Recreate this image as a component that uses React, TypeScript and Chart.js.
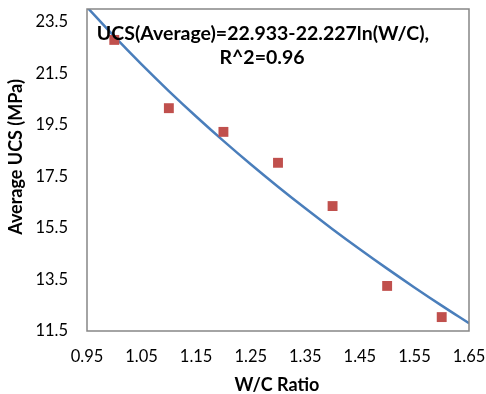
import React, { useEffect, useRef } from "react";
import { Chart, registerables } from "chart.js";

Chart.register(...registerables);

const wcRatio = [1.0, 1.1, 1.2, 1.3, 1.4, 1.5, 1.6];
const ucsAverage = [22.8, 20.15, 19.23, 18.03, 16.35, 13.25, 12.04];
const xTicks = [0.95, 1.05, 1.15, 1.25, 1.35, 1.45, 1.55, 1.65];
const yTicks = [11.5, 13.5, 15.5, 17.5, 19.5, 21.5, 23.5];
const trendA = 22.933;
const trendB = 22.227;
const trendX = [0.95, 1.0, 1.05, 1.1, 1.15, 1.2, 1.25, 1.3, 1.35, 1.4, 1.45, 1.5, 1.55, 1.6, 1.65];
const annotationLines = ["UCS(Average)=22.933-22.227ln(W/C),", "R^2=0.96"];
const xTitle = "W/C Ratio";
const yTitle = "Average UCS (MPa)";

const FONT = "Lato, 'Open Sans', sans-serif";

export default function App() {
  const ref = useRef<HTMLCanvasElement>(null);
  useEffect(() => {
    if (!ref.current) return;
    const trend = trendX.map((x) => ({ x, y: trendA - trendB * Math.log(x) }));
    const boxPlugin = {
      id: "box",
      afterDatasetsDraw(chart: any) {
        const { ctx, chartArea: a } = chart;
        const xs = chart.scales.x;
        const ys = chart.scales.y;
        ctx.save();
        ctx.strokeStyle = "#868686";
        ctx.lineWidth = 1.5;
        ctx.strokeRect(a.left, a.top, a.right - a.left, a.bottom - a.top);
        ctx.fillStyle = "#000";
        // tick labels
        ctx.font = `16.5px ${FONT}`;
        ctx.textAlign = "center";
        ctx.textBaseline = "middle";
        xTicks.forEach((v) => ctx.fillText(v.toFixed(2), xs.getPixelForValue(v), a.bottom + 26));
        ctx.textAlign = "right";
        yTicks.forEach((v) => ctx.fillText(v.toFixed(1), a.left - 19, ys.getPixelForValue(v)));
        // annotation
        ctx.textAlign = "center";
        ctx.font = `bold 19.5px ${FONT}`;
        ctx.fillText(annotationLines[0], 263, 34);
        ctx.fillText(annotationLines[1], 262, 58);
        // axis titles
        ctx.font = `bold 18px ${FONT}`;
        ctx.fillText(xTitle, 277, 385);
        ctx.translate(16, 157);
        ctx.rotate(-Math.PI / 2);
        ctx.fillText(yTitle, 0, 0);
        ctx.restore();
      },
    };
    const chart = new Chart(ref.current, {
      type: "scatter",
      data: {
        datasets: [
          {
            label: "UCS",
            data: wcRatio.map((x, i) => ({ x, y: ucsAverage[i] })),
            pointStyle: "rect",
            pointRadius: 7,
            backgroundColor: "#C0504D",
            borderColor: "#C0504D",
            borderWidth: 0,
          },
          {
            label: "Trend",
            data: trend,
            showLine: true,
            pointRadius: 0,
            borderColor: "#4A7EBB",
            borderWidth: 2.5,
            tension: 0.4,
          },
        ],
      },
      options: {
        animation: false,
        responsive: false,
        layout: { autoPadding: false, padding: { top: 9, right: 17, left: 0, bottom: 0 } },
        plugins: { legend: { display: false }, tooltip: { enabled: false } },
        scales: {
          x: {
            type: "linear",
            min: 0.95,
            max: 1.65,
            afterBuildTicks: (s: any) => { s.ticks = xTicks.map((v) => ({ value: v })); },
            afterFit: (s: any) => { s.height = 63; },
            grid: { display: false },
            border: { display: false },
            ticks: { display: false },
          },
          y: {
            type: "linear",
            min: 11.5,
            max: 24,
            afterBuildTicks: (s: any) => { s.ticks = yTicks.map((v) => ({ value: v })); },
            afterFit: (s: any) => { s.width = 87; },
            grid: { display: false },
            border: { display: false },
            ticks: { display: false },
          },
        },
      },
      plugins: [boxPlugin],
    });
    return () => chart.destroy();
  }, []);
  return (
    <div style={{ position: "fixed", left: 0, top: 0, width: 486, height: 394, background: "#fff" }}>
      <canvas ref={ref} width={486} height={394} />
    </div>
  );
}
